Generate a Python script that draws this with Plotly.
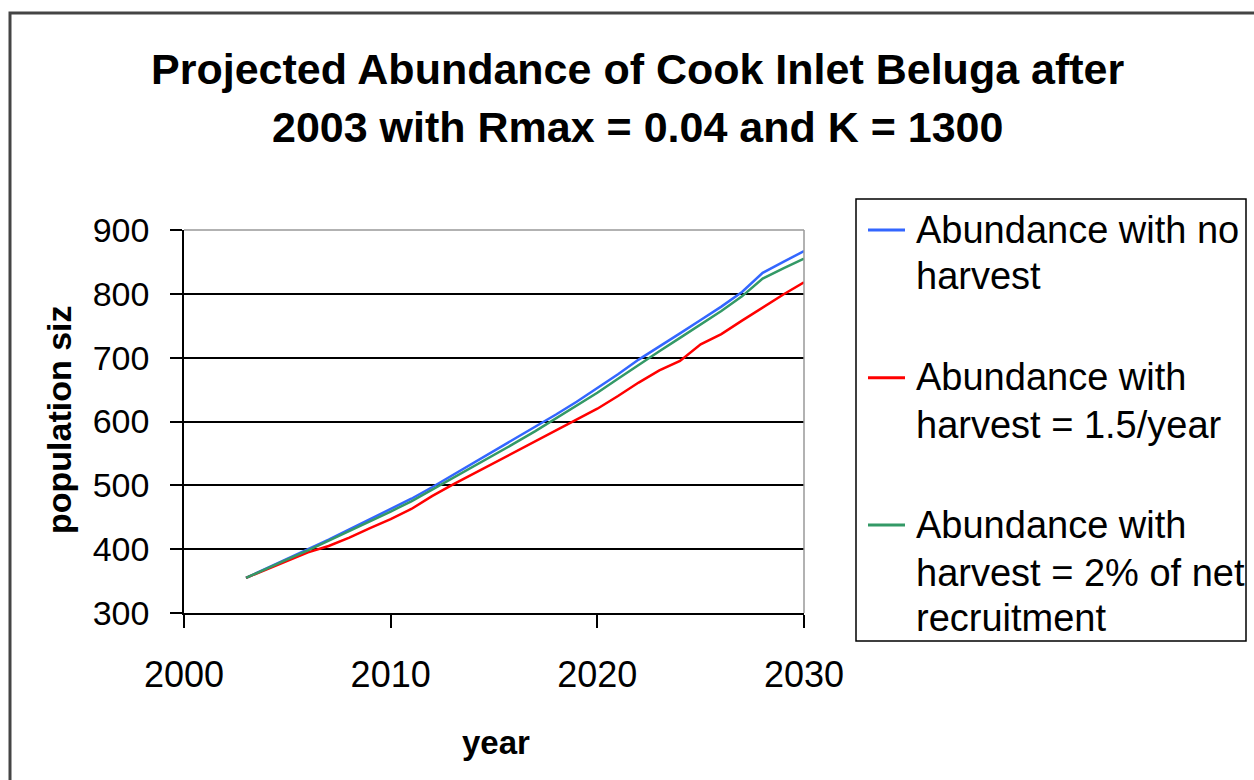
import plotly.graph_objects as go

years = list(range(2003, 2031))
no_harvest = [355, 370, 384, 399, 415, 431, 447, 462, 479, 497, 516, 534, 553, 572,
              591, 611, 631, 652, 674, 697, 717, 738, 759, 780, 803, 833, 850, 867]
harvest_fixed = [355, 368, 382, 395, 405, 418, 433, 447, 463, 483, 501, 518, 535, 551,
                 568, 586, 603, 620, 640, 661, 680, 695, 721, 737, 758, 779, 799, 818]
harvest_pct = [355, 370, 384, 398, 413, 429, 444, 459, 475, 493, 511, 529, 547, 566,
               585, 605, 625, 645, 667, 689, 710, 731, 752, 773, 796, 824, 840, 855]

series_names = [
    ["Abundance with no", "harvest"],
    ["Abundance with", "harvest = 1.5/year"],
    ["Abundance with", "harvest = 2% of net", "recruitment"],
]
series_colors = ["#3366FF", "#FF0000", "#339966"]
series_values = [no_harvest, harvest_fixed, harvest_pct]

x_ticks = [2000, 2010, 2020, 2030]
y_ticks = [300, 400, 500, 600, 700, 800, 900]

title_lines = ["Projected Abundance of Cook Inlet Beluga after",
               "2003 with Rmax = 0.04 and K = 1300"]
x_title = "year"
y_title = "population siz"

FONT = "Liberation Sans, Arial, sans-serif"

# pixel geometry helpers (plot area 184..804 x, 230..613 y)
L, R, T, B = 184, 804, 230, 613
W, H = R - L, B - T


def px(x):
    return (x - L) / W


def py(y):
    return (B - y) / H


fig = go.Figure()
# draw order: blue, red, green on top
for idx in [0, 1, 2]:
    fig.add_trace(go.Scatter(
        x=years, y=series_values[idx], mode="lines",
        line=dict(color=series_colors[idx], width=2.5),
        name=" ".join(series_names[idx]), showlegend=False,
        hoverinfo="skip",
    ))

shapes = []
annotations = []

# outer chart frame
shapes.append(dict(type="rect", xref="paper", yref="paper",
                   x0=px(10), x1=px(1400), y0=py(13), y1=py(900),
                   line=dict(color="#444444", width=3), layer="below"))
# plot area top/right border (gray)
shapes.append(dict(type="line", xref="paper", yref="paper",
                   x0=0, x1=1, y0=1, y1=1, line=dict(color="#999999", width=1.5)))
shapes.append(dict(type="line", xref="paper", yref="paper",
                   x0=1, x1=1, y0=0, y1=1, line=dict(color="#999999", width=1.5)))

# legend box
shapes.append(dict(type="rect", xref="paper", yref="paper",
                   x0=px(856), x1=px(1246), y0=py(641), y1=py(199),
                   line=dict(color="#000000", width=1.5)))

sample_y = [230, 377.7, 525]
text_y = [[229.7, 276], [376.7, 425], [525, 572.5, 617.5]]
for i in range(3):
    shapes.append(dict(type="line", xref="paper", yref="paper",
                       x0=px(868), x1=px(905), y0=py(sample_y[i]), y1=py(sample_y[i]),
                       line=dict(color=series_colors[i], width=3)))
    for line_text, ty in zip(series_names[i], text_y[i]):
        annotations.append(dict(text=line_text, xref="paper", yref="paper",
                                x=px(914), y=py(ty), xanchor="left", yanchor="middle",
                                showarrow=False,
                                font=dict(family=FONT, size=38, color="#000000")))

# title
for t, ty in zip(title_lines, [69, 127]):
    annotations.append(dict(text="<b>" + t + "</b>", xref="paper", yref="paper",
                            x=px(637), y=py(ty), xanchor="center", yanchor="middle",
                            showarrow=False,
                            font=dict(family=FONT, size=43, color="#000000")))

# axis titles
annotations.append(dict(text="<b>" + x_title + "</b>", xref="paper", yref="paper",
                        x=px(496), y=py(742), xanchor="center", yanchor="middle",
                        showarrow=False, font=dict(family=FONT, size=33, color="#000000")))
annotations.append(dict(text="<b>" + y_title + "</b>", xref="paper", yref="paper",
                        x=px(59), y=py(420), xanchor="center", yanchor="middle",
                        textangle=-90, showarrow=False,
                        font=dict(family=FONT, size=34, color="#000000")))

fig.update_layout(
    width=1254, height=780,
    margin=dict(l=L, r=1254 - R, t=T, b=780 - B, pad=0),
    paper_bgcolor="white", plot_bgcolor="white",
    showlegend=False,
    shapes=shapes, annotations=annotations,
    xaxis=dict(range=[2000, 2030], tickvals=x_ticks, ticks="outside", ticklen=13,
               tickwidth=1.5, tickcolor="#000000", showline=True, linecolor="#000000",
               linewidth=1.5, showgrid=False, zeroline=False,
               tickfont=dict(family=FONT, size=36, color="#000000"),
               ticklabelstandoff=16, fixedrange=True),
    yaxis=dict(range=[300, 900], tickvals=y_ticks, ticks="outside", ticklen=12,
               tickwidth=1.5, tickcolor="#000000", showline=True, linecolor="#000000",
               linewidth=1.5, showgrid=True, gridcolor="#000000", gridwidth=1.5,
               zeroline=False,
               tickfont=dict(family=FONT, size=34, color="#000000"),
               ticklabelstandoff=14, fixedrange=True),
)

fig.write_html(
    "out.html",
    config={"displayModeBar": False},
    post_script="document.body.style.margin='0';document.body.style.overflow='hidden';",
)
